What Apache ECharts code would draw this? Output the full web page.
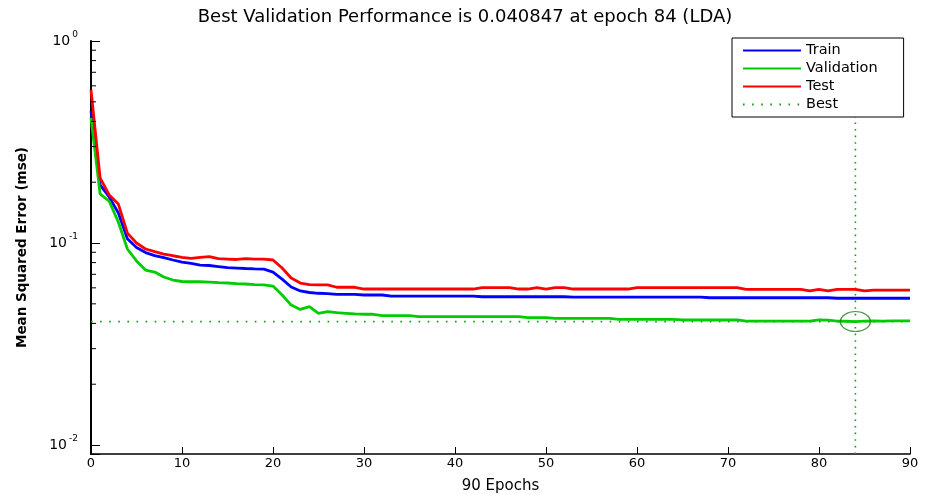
<!DOCTYPE html>
<html><head><meta charset="utf-8">
<script src="https://cdn.jsdelivr.net/npm/echarts@6/dist/echarts.min.js"></script>
<style>html,body{margin:0;padding:0;background:#fff}#c{width:930px;height:495px}</style>
</head><body><div id="c"></div>
<script>
// ---- data (epochs 0..90) ----
const trainMse = [
  0.450, 0.194, 0.169, 0.141, 0.105, 0.0950, 0.0897, 0.0867, 0.0846, 0.0824,
  0.0805, 0.0793, 0.0778, 0.0774, 0.0765, 0.0756, 0.0752, 0.0748, 0.0745, 0.0743,
  0.0718, 0.0663, 0.0606, 0.0579, 0.0569, 0.0564, 0.0562, 0.0557, 0.0557, 0.0557,
  0.0553, 0.0553, 0.0553, 0.0546, 0.0546, 0.0546, 0.0546, 0.0546, 0.0546, 0.0546,
  0.0546, 0.0546, 0.0546, 0.0542, 0.0542, 0.0542, 0.0542, 0.0542, 0.0542, 0.0542,
  0.0542, 0.0542, 0.0542, 0.0540, 0.0540, 0.0540, 0.0540, 0.0540, 0.0540, 0.0540,
  0.0540, 0.0540, 0.0540, 0.0540, 0.0540, 0.0540, 0.0540, 0.0540, 0.0536, 0.0536,
  0.0536, 0.0536, 0.0536, 0.0536, 0.0536, 0.0536, 0.0536, 0.0536, 0.0536, 0.0536,
  0.0536, 0.0536, 0.0533, 0.0533, 0.0533, 0.0533, 0.0533, 0.0533, 0.0533, 0.0533,
  0.0533
];
const validationMse = [
  0.416, 0.175, 0.161, 0.127, 0.0934, 0.0815, 0.0735, 0.0718, 0.0679, 0.0656,
  0.0645, 0.0643, 0.0643, 0.0641, 0.0637, 0.0634, 0.0630, 0.0627, 0.0623, 0.0620,
  0.0612, 0.0553, 0.0493, 0.0469, 0.0484, 0.0449, 0.0457, 0.0452, 0.0449, 0.0446,
  0.0444, 0.0444, 0.0437, 0.0437, 0.0437, 0.0437, 0.0432, 0.0432, 0.0432, 0.0432,
  0.0432, 0.0432, 0.0432, 0.0432, 0.0432, 0.0432, 0.0432, 0.0432, 0.0427, 0.0427,
  0.0427, 0.0424, 0.0424, 0.0424, 0.0424, 0.0424, 0.0424, 0.0424, 0.0419, 0.0419,
  0.0419, 0.0419, 0.0419, 0.0419, 0.0419, 0.0416, 0.0416, 0.0416, 0.0416, 0.0416,
  0.0416, 0.0416, 0.0411, 0.0411, 0.0411, 0.0411, 0.0411, 0.0411, 0.0411, 0.0411,
  0.0416, 0.0415, 0.0411, 0.0410, 0.040847, 0.0411, 0.0412, 0.0411, 0.0412, 0.0412,
  0.0412
];
const testMse = [
  0.572, 0.210, 0.173, 0.156, 0.112, 0.100, 0.0934, 0.0906, 0.0882, 0.0865,
  0.0849, 0.0840, 0.0849, 0.0856, 0.0837, 0.0833, 0.0829, 0.0837, 0.0833, 0.0833,
  0.0824, 0.0752, 0.0671, 0.0634, 0.0623, 0.0620, 0.0620, 0.0604, 0.0604, 0.0604,
  0.0592, 0.0592, 0.0592, 0.0592, 0.0592, 0.0592, 0.0592, 0.0592, 0.0592, 0.0592,
  0.0592, 0.0592, 0.0592, 0.0601, 0.0601, 0.0601, 0.0601, 0.0592, 0.0592, 0.0601,
  0.0592, 0.0601, 0.0601, 0.0592, 0.0592, 0.0592, 0.0592, 0.0592, 0.0592, 0.0592,
  0.0601, 0.0601, 0.0601, 0.0601, 0.0601, 0.0601, 0.0601, 0.0601, 0.0601, 0.0601,
  0.0601, 0.0601, 0.0590, 0.0590, 0.0590, 0.0590, 0.0590, 0.0590, 0.0590, 0.0579,
  0.0590, 0.0579, 0.0590, 0.0590, 0.0590, 0.0579, 0.0585, 0.0585, 0.0585, 0.0585,
  0.0585
];
const bestEpoch = 84;
const bestValue = 0.040847;
const xMin = 0, xMax = 90, xStep = 10;
const yMin = 0.00903, yMax = 1;
const yMajorExponents = [0, -1, -2];
const yMinorTicks = [0.02,0.03,0.04,0.05,0.06,0.07,0.08,0.09,0.2,0.3,0.4,0.5,0.6,0.7,0.8,0.9];

const FONT = 'DejaVu Sans';
const toPairs = arr => arr.map((v, i) => [i, v]);

const chart = echarts.init(document.getElementById('c'), null, {renderer: 'canvas'});
chart.setOption({
  animation: false,
  backgroundColor: '#fff',
  title: {
    text: 'Best Validation Performance is 0.040847 at epoch 84 (LDA)',
    left: 'center', top: 8, padding: [0, 0, 0, 50],
    textStyle: {fontFamily: FONT, fontSize: 18, fontWeight: 'normal', color: '#000'}
  },
  legend: {
    data: ['Train', 'Validation', 'Test', 'Best'],
    orient: 'vertical', left: 732, top: 38,
    itemWidth: 58, itemHeight: 14, itemGap: 3,
    padding: [5, 26, 5, 10],
    backgroundColor: '#fff', borderColor: '#000', borderWidth: 1, borderRadius: 0,
    itemStyle: {opacity: 0},
    textStyle: {fontFamily: FONT, fontSize: 14.5, lineHeight: 14, color: '#000'}
  },
  grid: {left: 91, right: 20, top: 41, bottom: 41, containLabel: false, outerBoundsMode: 'none'},
  xAxis: {
    type: 'value', min: xMin, max: xMax, interval: xStep,
    name: '90 Epochs', nameLocation: 'middle', nameGap: 25,
    nameTextStyle: {fontFamily: FONT, fontSize: 15, color: '#000'},
    axisLine: {lineStyle: {color: '#000', width: 1.5}},
    axisTick: {inside: true, length: 7, lineStyle: {color: '#000', width: 1}},
    axisLabel: {fontFamily: FONT, fontSize: 13, color: '#000', margin: 3},
    splitLine: {show: false}
  },
  yAxis: {
    type: 'log', logBase: 10, min: yMin, max: yMax,
    name: 'Mean Squared Error (mse)', nameLocation: 'middle', nameGap: 62, nameRotate: 90,
    nameTextStyle: {fontFamily: FONT, fontSize: 13.5, fontWeight: 'bold', color: '#000'},
    axisLine: {lineStyle: {color: '#000', width: 2}},
    axisTick: {inside: true, length: 9, lineStyle: {color: '#000', width: 1}},
    splitLine: {show: false},
    axisLabel: {
      margin: 13,
      formatter: v => {
        const l = Math.log10(v), e = Math.round(l);
        if (Math.abs(l - e) > 1e-6 || yMajorExponents.indexOf(e) < 0) return '';
        return '{b|10}{s|' + e + '}';
      },
      rich: {
        b: {fontFamily: FONT, fontSize: 14, color: '#000', lineHeight: 22},
        s: {fontFamily: FONT, fontSize: 9, color: '#000', lineHeight: 10, verticalAlign: 'top', padding: [0, 0, 0, 2]}
      }
    }
  },
  series: [
    {name: 'Train', type: 'line', data: toPairs(trainMse), symbol: 'none',
     lineStyle: {color: '#0000ff', width: 2.8}, itemStyle: {color: '#0000ff'}, z: 3},
    {name: 'Validation', type: 'line', data: toPairs(validationMse), symbol: 'none',
     lineStyle: {color: '#00cc00', width: 2.8}, itemStyle: {color: '#00cc00'}, z: 3},
    {name: 'Test', type: 'line', data: toPairs(testMse), symbol: 'none',
     lineStyle: {color: '#ff0000', width: 2.8}, itemStyle: {color: '#ff0000'}, z: 3},
    {name: 'Best', type: 'line', data: [[xMin, bestValue], [xMax, bestValue]], symbol: 'none',
     lineStyle: {color: '#1a9a1a', width: 1.6, type: [1.6, 7.5], cap: 'butt'}, itemStyle: {color: '#1a9a1a'}, z: 2},
    {name: 'Best', type: 'line', data: [[bestEpoch, yMin], [bestEpoch, yMax]], symbol: 'none',
     lineStyle: {color: '#1a9a1a', width: 1.6, type: [1.6, 5], cap: 'butt'}, itemStyle: {color: '#1a9a1a'}, z: 2},
    {name: 'BestMarker', type: 'scatter', data: [[bestEpoch, bestValue]],
     symbol: 'circle', symbolSize: [30, 20],
     itemStyle: {color: 'rgba(0,0,0,0)', borderColor: '#1f7f1f', borderWidth: 1.3}, z: 4, silent: true},
    {name: 'minorTicks', type: 'custom', data: yMinorTicks.map(v => [xMin, v]),
     encode: {x: 0, y: 1}, silent: true, z: 5,
     renderItem: (params, api) => {
       const p = api.coord([api.value(0), api.value(1)]);
       return {type: 'line', shape: {x1: p[0], y1: p[1], x2: p[0] + 5, y2: p[1]},
               style: {stroke: '#000', lineWidth: 1}};
     }}
  ]
});
</script></body></html>
